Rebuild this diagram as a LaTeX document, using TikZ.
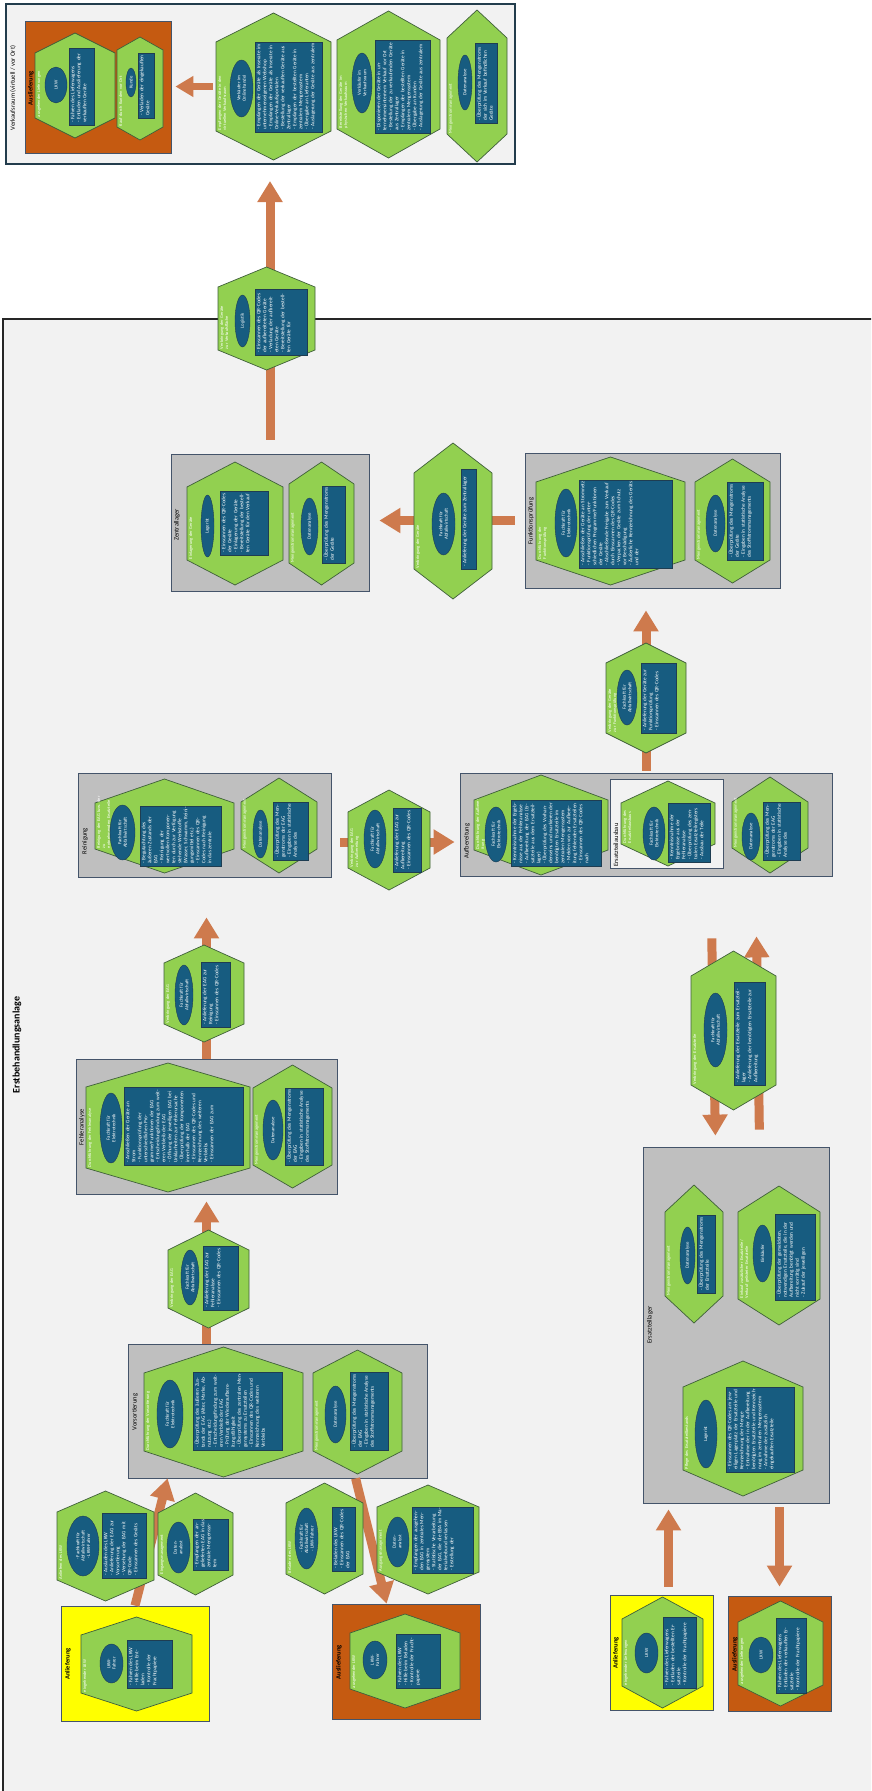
\documentclass[tikz,border=0pt]{standalone}
\usepackage{fontspec}
\setmainfont{Carlito}
\usetikzlibrary{positioning}
\usetikzlibrary{arrows.meta}
\usetikzlibrary{shapes}
\usetikzlibrary{calc}

\definecolor{hexgreen}{HTML}{92D050}
\definecolor{hexedge}{HTML}{3F5F3A}
\definecolor{roleblue}{HTML}{175C80}
\definecolor{roleedge}{HTML}{1E3D52}
\definecolor{zonegray}{HTML}{BFBFBF}
\definecolor{zoneedge}{HTML}{44546A}
\definecolor{hallgray}{HTML}{F2F2F2}
\definecolor{halledge}{HTML}{233D4D}
\definecolor{outorange}{HTML}{C55A11}
\definecolor{inyellow}{HTML}{FFFF00}
\definecolor{flowc}{HTML}{CE7A4D}

\tikzstyle{hall} = [draw=halledge, fill=hallgray, line width=2pt, inner sep=0pt]
\tikzstyle{plant} = [draw=black!85, fill=hallgray, line width=1.8pt, inner sep=0pt]
\tikzstyle{zone} = [draw=zoneedge, fill=zonegray, line width=0.8pt, inner sep=0pt]
\tikzstyle{sparezone} = [draw=zoneedge, fill=hallgray, line width=0.8pt, inner sep=0pt]
\tikzstyle{outzone} = [draw=zoneedge, fill=outorange, line width=0.8pt, inner sep=0pt]
\tikzstyle{inzone} = [draw=zoneedge, fill=inyellow, line width=0.8pt, inner sep=0pt]
\tikzstyle{zonetitle} = [rotate=90, text=black, inner sep=0pt, font=\fontsize{6.5}{7.5}\selectfont]
\tikzstyle{deliverytitle} = [zonetitle, font=\bfseries\fontsize{6.5}{7.5}\selectfont]
\tikzstyle{hexa} = [draw=hexedge, fill=hexgreen, line width=0.7pt]
\tikzstyle{hexspot} = [inner sep=0pt, outer sep=0pt]
\tikzstyle{hextitle} = [rotate=90, anchor=north west, inner sep=0.8pt, text=white, align=left, font=\fontsize{4.4}{5}\selectfont]
\tikzstyle{blob} = [draw=roleedge, fill=roleblue, ellipse, rotate=90, inner sep=0.5pt, text=white, align=center, font=\fontsize{4.8}{5.4}\selectfont]
\tikzstyle{dutybox} = [draw=roleedge, fill=roleblue, line width=0.7pt, inner sep=0pt]
\tikzstyle{duty} = [rotate=90, anchor=north west, inner sep=0.6pt, text=white, align=left, font=\fontsize{5.2}{6}\selectfont]
\tikzstyle{flow} = [draw=flowc, line width=9pt, -{Triangle[length=21pt,width=24pt]}]

% box given by its corners
\newcommand{\zone}[6]{%
  \pgfmathsetmacro{\zonew}{#4-#2}\pgfmathsetmacro{\zoneh}{#5-#3}%
  \node [#6, minimum width=\zonew pt, minimum height=\zoneh pt] (#1) at ({(#2+#4)/2},{(#3+#5)/2}) {};}
% standing hexagon with its title
\newcommand{\hexa}[7]{%
  \pgfmathsetmacro{\hexw}{#4-#2}\pgfmathsetmacro{\hexh}{#5-#3}\pgfmathsetmacro{\hextw}{#5-#3-2*#6+6}%
  \node [hexspot, minimum width=\hexw pt, minimum height=\hexh pt] (#1) at ({(#2+#4)/2},{(#3+#5)/2}) {};
  \path [hexa] ({(#2+#4)/2},#3) -- (#4,{#3+#6}) -- (#4,{#5-#6}) -- ({(#2+#4)/2},#5) -- (#2,{#5-#6}) -- (#2,{#3+#6}) -- cycle;
  \node [hextitle, text width=\hextw pt] (#1t) at ({#2+1},{#5-#6}) {#7};}
% role ellipse
\newcommand{\persona}[6]{%
  \pgfmathsetmacro{\rolew}{#5-#3}\pgfmathsetmacro{\roleh}{#4-#2}%
  \node [blob, minimum width=\rolew pt, minimum height=\roleh pt] (#1) at ({(#2+#4)/2},{(#3+#5)/2}) {#6};}
% task list
\newcommand{\dutylist}[6]{%
  \pgfmathsetmacro{\dutyw}{#4-#2}\pgfmathsetmacro{\dutyh}{#5-#3}\pgfmathsetmacro{\dutytw}{#5-#3-3}%
  \node [dutybox, minimum width=\dutyw pt, minimum height=\dutyh pt] (#1) at ({(#2+#4)/2},{(#3+#5)/2}) {};
  \node [duty, text width=\dutytw pt] (#1t) at ({#2+1},{#5-1.5}) {#6};}

\begin{document}
\begin{tikzpicture}[x=1pt, y=-1pt]
  \useasboundingbox (0,0) rectangle (871,1791);
  \clip (0,0) rectangle (871,1791);

  %% Areas
  \zone{vr}{6}{4}{515}{164}{hall}
  \node [zonetitle] (vrt) at (13,88) {Verkaufsraum (virtuell / vor Ort)};
  \zone{vrout}{25}{21}{171}{153}{outzone}
  \node [deliverytitle] (vroutt) at (31,88) {Auslieferung};

  \zone{eba}{3}{319}{900}{1820}{plant}
  \node [zonetitle, font=\bfseries\fontsize{10}{12}\selectfont] (ebat) at (17,1045) {Erstbehandlungsanlage};

  \zone{zl}{171}{454}{369}{591}{zone}
  \node [zonetitle] (zlt) at (177,525) {Zentrallager};
  \zone{fp}{525}{453}{780}{588}{zone}
  \node [zonetitle] (fpt) at (531,521) {Funktionsprüfung};
  \zone{rg}{78}{773}{331}{877}{zone}
  \node [zonetitle] (rgt) at (85,841) {Reinigung};
  \zone{ab}{460}{773}{832}{876}{zone}
  \node [zonetitle] (abt) at (467,841) {Aufbereitung};
  \zone{eta}{610}{779}{723}{868}{sparezone}
  \node [zonetitle] (etat) at (616,845) {Ersatzteilausbau};
  \zone{fa}{76}{1059}{337}{1194}{zone}
  \node [zonetitle] (fat) at (82,1127) {Fehleranalyse};
  \zone{etl}{643}{1147}{829}{1503}{zone}
  \node [zonetitle] (etlt) at (650,1325) {Ersatzteillager};
  \zone{vs}{128}{1344}{427}{1478}{zone}
  \node [zonetitle] (vst) at (135,1412) {Vorsortierung};

  \zone{an1}{61}{1606}{209}{1721}{inzone}
  \node [deliverytitle] (an1t) at (68,1664) {Anlieferung};
  \zone{au1}{332}{1604}{480}{1719}{outzone}
  \node [deliverytitle] (au1t) at (339,1662) {Auslieferung};
  \zone{an2}{610}{1595}{713}{1710}{inzone}
  \node [deliverytitle] (an2t) at (616,1653) {Anlieferung};
  \zone{au2}{728}{1596}{831}{1711}{outzone}
  \node [deliverytitle] (au2t) at (735,1654) {Auslieferung};

  %% Arrows
  \coordinate (inlet) at ($(an2.north)+(7,0)$);
  \coordinate (partsdown) at ($(ab.south west)+(251,0)$);
  \coordinate (partsin) at ($(etl.north west)+(73,0)$);
  \coordinate (partsup) at ($(etl.north west)+(117,0)$);
  \coordinate (partsback) at ($(ab.south west)+(296,0)$);
  \draw [flow, shorten <=14pt, shorten >=16pt] (zl.north) -- (zl.north |- vr.south);
  \draw [flow, shorten <=10pt, shorten >=10pt] (fp.west) -- (fp.west -| zl.east);
  \draw [flow, shorten <=2pt, shorten >=22pt] (ab.north) -- (ab.north |- fp.south);
  \draw [flow, shorten <=9pt, shorten >=5pt] ([yshift=-17pt]rg.east) -- ([yshift=-17pt]rg.east -| ab.west);
  \draw [flow, shorten >=40pt] (fa.north) -- (fa.north |- rg.south);
  \draw [flow, shorten >=7pt] (vs.north -| fa.south) -- (fa.south);
  \draw [flow] (an1.north) -- ($(vs.south west)+(40,0)$);
  \draw [flow] ($(vs.south west)+(228,0)$) -- ($(au1.north west)+(55,0)$);
  \draw [flow, shorten <=8pt, shorten >=6pt] (inlet) -- (inlet |- etl.south);
  \draw [flow, shorten <=4pt, shorten >=9pt] (au2.north |- etl.south) -- (au2.north);
  \draw [flow, shorten <=62pt, shorten >=11pt] (partsdown) -- (partsin);
  \draw [flow, shorten <=17pt, shorten >=60pt] (partsup) -- (partsback);

  %% Verkaufsraum
  \hexa{hvr1}{35}{33}{115}{138}{20}{ausgehender Lieferungen}
  \persona{ovr1}{45}{67}{67}{103}{LKW}
  \dutylist{dvr1}{69}{48}{94}{125}{- Fahren des Lieferwagens\\- Entladen und Auslieferung der verkauften Geräte}
  \hexa{hvr2}{117}{37}{163}{140}{13}{Kauf durch Kunden vor Ort}
  \persona{ovr2}{126}{68}{136}{97}{Kunde}
  \dutylist{dvr2}{138}{53}{154}{118}{- Verladen der eingekauften Geräte}
  \hexa{hvr3}{216}{13}{331}{160}{29}{Empfangen der Geräte in den\\virtuellen Verkaufsraum}
  \persona{ovr3}{230}{60}{253}{117}{Verkäufer im\\Onlinehandel}
  \dutylist{dvr3}{255}{42}{322}{132}{- Empfangen der Geräte als Inserate im unternehmenseigenen Webshop\\- Empfangen der Geräte als Inserate in Online-Verkaufsportalen\\- Bestellung der verkauften Geräte aus Zentrallager\\- Empfangen der bestellten Geräte in zentralem Mengensystem\\- Übergabe an Lieferanten\\- Auslagerung der Geräte aus zentralem}
  \hexa{hvr4}{337}{11}{440}{158}{29}{Bereitstellung der Geräte im\\physischen Verkaufsraum}
  \persona{ovr4}{352}{53}{372}{113}{Verkäufer im\\Verkaufsraum}
  \dutylist{dvr4}{375}{40}{430}{133}{- Disponieren der Geräte in unternehmensinternem Verkauf vor Ort\\- Bestellung der zu verkaufenden Geräte aus Zentrallager\\- Empfangen der bestellten Geräte in zentralem Mengensystem\\- Übergabe an Kunden\\- Auslagerung der Geräte aus zentralem}
  \hexa{hvr5}{447}{10}{507}{162}{28}{Mengenstrommanagement}
  \persona{ovr5}{458}{55}{472}{110}{Datenanalyse}
  \dutylist{dvr5}{475}{43}{497}{123}{- Überprüfung des Mengenstroms der sich im Verkauf befindlichen Geräte}
  \draw [flow, line width=7pt, -{Triangle[length=18pt,width=20pt]}, shorten <=3pt, shorten >=4pt] (hvr3.west) -- (hvr3.west -| vrout.east);

  %% Verbringung in den Verkaufsraum
  \hexa{hvk}{218}{267}{315}{370}{20}{Verbringung der Geräte\\zur Verkaufsfläche}
  \persona{ovk}{235}{295}{250}{347}{Logistik}
  \dutylist{dvk}{255}{289}{307}{355}{- Einscannen des QR-Codes der aufbereiteten Geräte\\- Verladung der aufbereiteten Geräte\\- Bereitstellung der bestellten Geräte für}

  %% Zentrallager
  \hexa{hzl1}{187}{462}{283}{585}{25}{Einlagerung der Geräte}
  \persona{ozl1}{201}{495}{214}{557}{Lagerist}
  \dutylist{dzl1}{220}{491}{268}{555}{- Einscannen des QR-Codes der Geräte\\- Einlagerung der Geräte\\- Bereitstellung der bestellten Geräte für den Verkauf}
  \hexa{hzl2}{289}{462}{354}{585}{22}{Mengenstrommanagement}
  \persona{ozl2}{301}{498}{318}{555}{Datenanalyse}
  \dutylist{dzl2}{322}{486}{345}{563}{- Überprüfung des Mengenstroms der Geräte}

  \hexa{hzl}{414}{443}{492}{599}{30}{Verbringung der Geräte}
  \persona{ozl}{432}{493}{455}{555}{Fachkraft für\\Abfallwirtschaft}
  \dutylist{dzl}{461}{469}{476}{569}{- Anlieferung der Geräte zum Zentrallager}

  %% Funktionsprüfung
  \hexa{hfp1}{536}{457}{685}{585}{25}{Durchführung der\\Funktionsprüfung}
  \persona{ofp1}{555}{489}{577}{557}{Fachkraft für\\Elektrotechnik}
  \dutylist{dfp1}{579}{480}{672}{568}{- Anschließen der Geräte an Stromnetz\\- Funktionsprüfung der unterschiedlichen Programme/Funktionen der Geräte\\- Abschließende Freigabe zum Verkauf durch Einscannen des QR-Codes\\- Verpacken der Geräte zum Schutz vor Beschädigung\\- Äußerliche Kennzeichnung des Geräts und der}
  \hexa{hfp2}{695}{459}{770}{583}{23}{Mengenstrommanagement}
  \persona{ofp2}{706}{495}{725}{552}{Datenanalyse}
  \dutylist{dfp2}{727}{482}{763}{560}{- Überprüfung des Mengenstroms der Geräte\\- Eingaben in statistische Analyse des Stoffstrommanagements}

  \hexa{hfp}{606}{643}{686}{753}{20}{Verbringung der Geräte\\zur Funktionsprüfung}
  \persona{ofp}{617}{670}{637}{725}{Fachkraft für\\Abfallwirtschaft}
  \dutylist{dfp}{641}{663}{676}{733}{- Anlieferung der Geräte zur Funktionsprüfung\\- Einscannen des QR-Codes}

  %% Reinigung
  \hexa{hrg1}{95}{779}{234}{873}{24}{Reinigung der EAG bzw. der zu\\entnehmenden Ersatzteile}
  \persona{org1}{110}{805}{135}{860}{Fachkraft für\\Abfallwirtschaft}
  \dutylist{drg1}{140}{806}{221}{866}{- Begutachtung des äußeren Zustands der EAG\\- Reinigung der wertvollen Komponenten durch zur Verfügung stehende Werkstoffe (Wasser, Schwamm, Reinigungsmittel etc.)\\- Einscannen des QR-Codes nach Reinigung in das zentrale}
  \hexa{hrg2}{241}{778}{317}{873}{24}{Mengenstrommanagement}
  \persona{org2}{253}{810}{268}{858}{Datenanalyse}
  \dutylist{drg2}{273}{802}{308}{860}{- Überprüfung des Mengenstroms der EAG\\- Eingaben in statistische Analyse des}

  \hexa{hab}{348}{790}{430}{890}{22}{Verbringung der EAG\\zur Aufbereitung}
  \persona{oab}{364}{810}{386}{868}{Fachkraft für\\Abfallwirtschaft}
  \dutylist{dab}{393}{808}{421}{872}{- Anlieferung der EAG zur Aufbereitung\\- Einscannen des QR-Codes}

  %% Aufbereitung
  \hexa{hab1}{474}{775}{608}{875}{25}{Durchführung der Aufbereitung}
  \persona{oab1}{485}{807}{507}{862}{Fachkraft für\\Elektrotechnik}
  \dutylist{dab1}{511}{800}{601}{866}{- Kenntnisnahme der Ergebnisse aus der Fehleranalyse\\- Aufbereitung der EAG (Ersatzteile aus dem Ersatzteillager)\\- Überprüfung des Vorhandenseins und markieren der benötigten Ersatzteile im zentralen Mengensystem\\- Melden von zur Aufbereitung fehlenden Ersatzteilen\\- Einscannen des QR-Codes nach}
  \hexa{hab2}{621}{781}{715}{866}{22}{Durchführung des\\Ersatzteilausbaus}
  \persona{oab2}{643}{807}{665}{860}{Fachkraft für\\Elektrotechnik}
  \dutylist{dab2}{668}{803}{710}{862}{- Kenntnisnahme der Ergebnisse aus der Fehleranalyse\\- Überprüfung des zentralen Ersatzteilregisters\\- Ausbau der Teile}
  \hexa{hab3}{732}{777}{808}{873}{25}{Mengenstrommanagement}
  \persona{oab3}{742}{813}{760}{860}{Datenanalyse}
  \dutylist{dab3}{763}{802}{800}{860}{- Überprüfung des Mengenstroms der EAG\\- Eingaben in statistische Analyse des}

  \hexa{het}{691}{951}{776}{1110}{25}{Verbringung der Ersatzteile}
  \persona{oet}{704}{993}{727}{1067}{Fachkraft für\\Abfallwirtschaft}
  \dutylist{det}{734}{982}{765}{1085}{- Anlieferung der Ersatzteile zum Ersatzteillager\\- Anlieferung der benötigten Ersatzteile zur Aufbereitung}

  \hexa{hrg}{164}{945}{244}{1042}{18}{Verbringung der EAG}
  \persona{org}{175}{965}{193}{1025}{Fachkraft für\\Abfallwirtschaft}
  \dutylist{drg}{201}{962}{230}{1027}{- Anlieferung der EAG zur Reinigung\\- Einscannen des QR-Codes}

  %% Fehleranalyse
  \hexa{hfa1}{86}{1063}{250}{1192}{24}{Durchführung der Fehleranalyse}
  \persona{ofa1}{100}{1093}{122}{1163}{Fachkraft für\\Elektrotechnik}
  \dutylist{dfa1}{124}{1087}{243}{1165}{- Anschließen der Geräte an Strom\\- Funktionsprüfung der unterschiedlichen Programme/Funktionen der EAG\\- Entscheidungsfindung zum weiteren Verbleib der EAG\\- Öffnung der jeweiligen EAG bei Unklarheiten zur Fehlerursache\\- Überprüfung der Komponenten innerhalb der EAG\\- Einscannen des QR-Codes und Kennzeichnung des weiteren Verbleibs\\- Einscannen der EAG zum}
  \hexa{hfa2}{253}{1065}{332}{1188}{23}{Mengenstrommanagement}
  \persona{ofa2}{263}{1100}{283}{1160}{Datenanalyse}
  \dutylist{dfa2}{285}{1088}{323}{1165}{- Überprüfung des Mengenstroms der EAG\\- Eingaben in statistische Analyse des Stoffstrommanagements}

  \hexa{hfa}{168}{1230}{249}{1328}{20}{Verbringung der EAG}
  \persona{ofa}{181}{1250}{199}{1305}{Fachkraft für\\Abfallwirtschaft}
  \dutylist{dfa}{203}{1246}{238}{1310}{- Anlieferung der EAG zur Fehleranalyse\\- Einscannen des QR-Codes}

  %% Ersatzteillager
  \hexa{hetl1}{665}{1185}{723}{1323}{27}{Mengenstrommanagement}
  \persona{oetl1}{680}{1227}{695}{1284}{Datenanalyse}
  \dutylist{detl1}{697}{1215}{715}{1293}{- Überprüfung des Mengenstroms der Ersatzteile}
  \hexa{hetl2}{738}{1186}{820}{1325}{26}{Einkauf zusätzlicher Ersatzteile /\\Verkauf gelisteter Ersatzteile}
  \persona{oetl2}{753}{1225}{772}{1282}{Einkäufer}
  \dutylist{detl2}{775}{1214}{815}{1300}{- Überprüfung der gemeldeten, notwendigen Ersatzteile, die in der Aufbereitung benötigt werden und nicht vorrätig sind\\- Zukauf der jeweiligen}
  \hexa{hetl3}{683}{1361}{803}{1496}{26}{Pflege des Ersatzteilbestands}
  \persona{oetl3}{695}{1400}{717}{1468}{Lagerist}
  \dutylist{detl3}{726}{1387}{794}{1472}{- Einscannen des QR-Codes am jeweiligen Lagerplatz der Ersatzteile und Kennzeichnung der Menge\\- Entnahme der in der Aufbereitung benötigten Ersatzteile und Kennzeichnung im zentralen Mengensystem\\- Annahme der zusätzlich eingekauften Ersatzteile}

  %% Vorsortierung
  \hexa{hvs1}{144}{1347}{303}{1477}{26}{Durchführung der Vorsortierung}
  \persona{ovs1}{157}{1380}{183}{1448}{Fachkraft für\\Elektrotechnik}
  \dutylist{dvs1}{193}{1372}{282}{1450}{- Überprüfung des äußeren Zustands der EAG (Alter, Marke, Abnutzung etc.)\\- Entscheidungsfindung zum weiteren Verbleib der EAG\\- Prüfung der Wiederaufbereitungsfähigkeit\\- Überprüfung des zentralen Mengensystems zu Ersatzteilen\\- Einscannen des QR-Codes und Kennzeichnung des weiteren Verbleibs}
  \hexa{hvs2}{313}{1350}{402}{1474}{23}{Mengenstrommanagement}
  \persona{ovs2}{325}{1386}{346}{1443}{Datenanalyse}
  \dutylist{dvs2}{350}{1372}{388}{1450}{- Überprüfung des Mengenstroms der EAG\\- Eingaben in statistische Analyse des Stoffstrommanagements}

  %% Ein- und Ausgang
  \hexa{hin1}{57}{1491}{154}{1601}{21}{Anliefern des LKW}
  \persona{oin1}{67}{1516}{99}{1576}{- Fachkraft für\\Abfallwirtschaft\\- LKW-Fahrer}
  \dutylist{din1}{102}{1513}{146}{1578}{- Ausladen des LKW\\- Anlieferung der EAG zur Vorsortierung\\- Versehung der EAG mit QR-Code\\- Einscannen des Geräts}
  \hexa{hin2}{158}{1493}{233}{1595}{20}{Eingangsmanagement}
  \persona{oin2}{167}{1522}{190}{1573}{Daten-\\analyst}
  \dutylist{din2}{193}{1519}{228}{1570}{- Empfangen der angelieferten EAG in das zentrale Mengensystem}
  \hexa{hin3}{81}{1617}{192}{1711}{18}{eingehender LKW}
  \persona{oin3}{100}{1644}{123}{1683}{LKW-\\Fahrer}
  \dutylist{din3}{127}{1640}{172}{1688}{- Fahren des LKW\\- Hilfe beim Entladen\\- Kontrolle der Frachtpapiere}

  \hexa{hout1}{286}{1483}{363}{1594}{20}{Beladen des LKW}
  \persona{oout1}{295}{1508}{318}{1569}{- Fachkraft für\\Abfallwirtschaft\\- LKW-Fahrer}
  \dutylist{dout1}{332}{1507}{355}{1571}{- Beladen des LKW\\- Einscannen des QR-Codes der EAG}
  \hexa{hout2}{377}{1485}{479}{1594}{22}{Ausgangsmanagement}
  \persona{oout2}{386}{1517}{409}{1567}{Daten-\\analyst}
  \dutylist{dout2}{412}{1507}{473}{1573}{- Empfangen der ausgehenden EAG in zentrales Mengensystem\\- Statistische Verarbeitung der EAG, die die EBA im Materialverbund verlassen\\- Erstellung der}
  \hexa{hout3}{350}{1614}{460}{1708}{19}{ausgehender LKW}
  \persona{oout3}{363}{1641}{387}{1679}{LKW-\\Fahrer}
  \dutylist{dout3}{396}{1634}{440}{1688}{- Fahren des LKW\\- Hilfe beim Beladen\\- Kontrolle der Frachtpapiere}

  \hexa{hin4}{622}{1597}{703}{1708}{22}{eingehender Lieferungen}
  \persona{oin4}{635}{1633}{658}{1673}{LKW}
  \dutylist{din4}{663}{1617}{696}{1688}{- Fahren des Lieferwagens\\- Entladen der bestellten Ersatzteile\\- Kontrolle der Frachtpapiere}
  \hexa{hout4}{738}{1601}{823}{1706}{21}{ausgehender Lieferungen}
  \persona{oout4}{749}{1637}{773}{1673}{LKW}
  \dutylist{dout4}{776}{1618}{806}{1693}{- Fahren des Lieferwagens\\- Entladen der verkauften Ersatzteile\\- Kontrolle der Frachtpapiere}
\end{tikzpicture}
\end{document}
